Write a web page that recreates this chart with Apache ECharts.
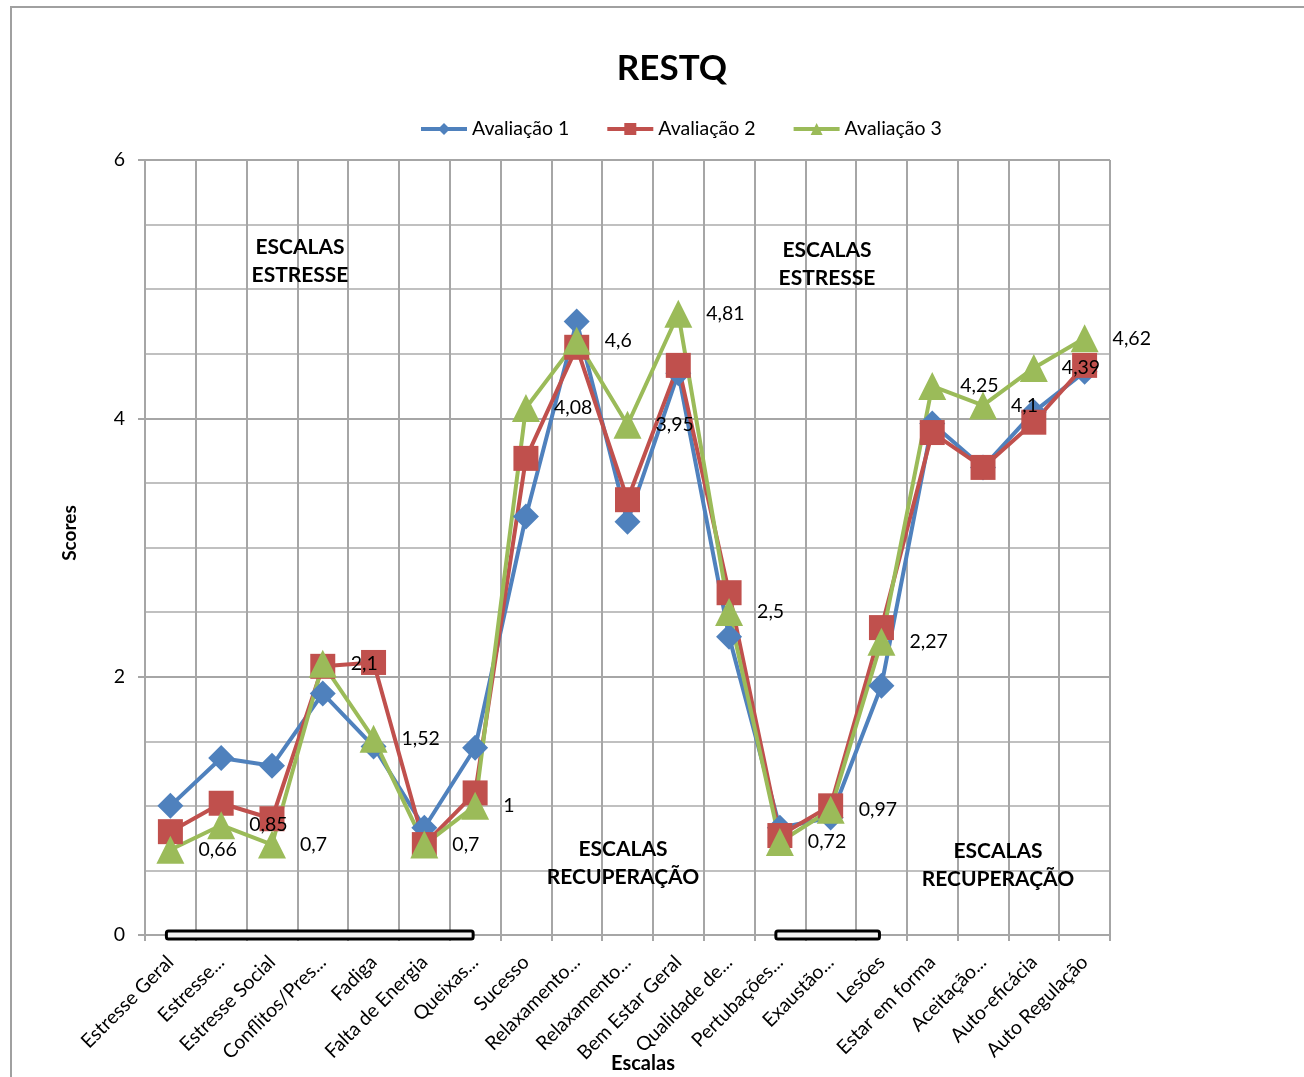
<!DOCTYPE html>
<html>
<head>
<meta charset="utf-8">
<title>RESTQ</title>
<script src="https://cdn.jsdelivr.net/npm/echarts@6/dist/echarts.min.js"></script>
<style>
  html, body { margin: 0; padding: 0; background: #fff; }
  #chart { width: 1304px; height: 1077px; }
</style>
</head>
<body>
<div id="chart"></div>
<script>
// RESTQ scale scores for three assessments
const categories = [
  'Estresse Geral', 'Estresse...', 'Estresse Social', 'Conflitos/Pres...', 'Fadiga',
  'Falta de Energia', 'Queixas...', 'Sucesso', 'Relaxamento...', 'Relaxamento...',
  'Bem Estar Geral', 'Qualidade de...', 'Pertubações...', 'Exaustão...', 'Lesões',
  'Estar em forma', 'Aceitação...', 'Auto-eficácia', 'Auto Regulação'
];
const avaliacao1 = [1.0, 1.37, 1.31, 1.87, 1.46, 0.83, 1.45, 3.24, 4.75, 3.2, 4.35, 2.31, 0.83, 0.91, 1.93, 3.96, 3.62, 4.05, 4.36];
const avaliacao2 = [0.8, 1.02, 0.9, 2.08, 2.11, 0.7, 1.1, 3.69, 4.55, 3.37, 4.41, 2.65, 0.77, 1.0, 2.38, 3.89, 3.62, 3.97, 4.41];
const avaliacao3 = [0.66, 0.85, 0.7, 2.1, 1.52, 0.7, 1.0, 4.08, 4.6, 3.95, 4.81, 2.5, 0.72, 0.97, 2.27, 4.25, 4.1, 4.39, 4.62];
const seriesNames = ['Avaliação 1', 'Avaliação 2', 'Avaliação 3'];
const yTicks = [0, 2, 4, 6];
// Category ranges underlined along the axis
const bracketRanges = [[0, 6], [12, 14]];

const FONT = 'Lato, "Open Sans", sans-serif';
const GRID_COLOR = '#a6a6a6';

const chart = echarts.init(document.getElementById('chart'), null, { renderer: 'canvas' });

function lineSeries(name, data, color, symbol, size, withLabels) {
  return {
    name: name,
    type: 'line',
    data: data,
    symbol: symbol,
    symbolSize: size,
    lineStyle: { color: color, width: 4 },
    itemStyle: { color: color },
    emphasis: { disabled: true },
    label: withLabels ? {
      show: true,
      position: 'right',
      distance: 14,
      color: '#000',
      fontFamily: FONT,
      fontSize: 19.5,
      formatter: p => String(p.value).replace('.', ',')
    } : { show: false },
    z: 2
  };
}

const option = {
  animation: false,
  backgroundColor: '#fff',
  textStyle: { fontFamily: FONT },
  title: {
    text: 'RESTQ',
    left: 667,
    top: 46,
    textAlign: 'center',
    textStyle: { fontFamily: FONT, fontSize: 35, fontWeight: 'bold', color: '#000' }
  },
  legend: {
    data: seriesNames,
    top: 114,
    left: 414,
    itemWidth: 46,
    itemHeight: 15,
    itemGap: 36,
    lineStyle: { width: 4 },
    textStyle: { fontFamily: FONT, fontSize: 19.5, color: '#000' }
  },
  grid: { left: 145, right: 194, top: 160, bottom: 142, containLabel: false },
  xAxis: {
    type: 'category',
    data: categories,
    boundaryGap: true,
    axisLine: { lineStyle: { color: GRID_COLOR, width: 2 } },
    axisTick: { show: true, length: 6, lineStyle: { color: GRID_COLOR, width: 2 } },
    splitLine: { show: true, lineStyle: { color: GRID_COLOR, width: 2 } },
    axisLabel: {
      interval: 0,
      rotate: 45,
      margin: 24,
      color: '#000',
      fontFamily: FONT,
      fontSize: 19.5
    }
  },
  yAxis: {
    type: 'value',
    min: 0,
    max: 6,
    interval: 2,
    axisLine: { show: true, lineStyle: { color: GRID_COLOR, width: 2 } },
    axisTick: { show: true, length: 7, lineStyle: { color: GRID_COLOR, width: 2 } },
    axisLabel: {
      margin: 20,
      color: '#000',
      fontFamily: FONT,
      fontSize: 19.5,
      formatter: v => (yTicks.indexOf(v) >= 0 ? String(v) : '')
    },
    splitLine: { show: true, lineStyle: { color: GRID_COLOR, width: 2 } },
    minorTick: { show: false, splitNumber: 4 },
    minorSplitLine: { show: true, lineStyle: { color: '#c0c0c0', width: 2 } }
  },
  series: [
    lineSeries(seriesNames[0], avaliacao1, '#4f81bd', 'diamond', 26, false),
    lineSeries(seriesNames[1], avaliacao2, '#c0504d', 'rect', 25, false),
    lineSeries(seriesNames[2], avaliacao3, '#9bbb59', 'triangle', 28, true)
  ]
};

chart.setOption(option);

// Annotations, axis titles, outer frame and the bracket bars along the x axis
function buildGraphics() {
  const els = [];
  els.push({
    type: 'polyline',
    shape: { points: [[11, 1077], [11, 7], [1304, 7]] },
    style: { stroke: '#a0a0a0', lineWidth: 2, fill: null },
    silent: true,
    z: 100
  });
  const notes = [
    { x: 300, y: 261, text: 'ESCALAS\nESTRESSE' },
    { x: 827, y: 264, text: 'ESCALAS\nESTRESSE' },
    { x: 623, y: 863, text: 'ESCALAS\nRECUPERAÇÃO' },
    { x: 998, y: 865, text: 'ESCALAS\nRECUPERAÇÃO' }
  ];
  notes.forEach(n => {
    els.push({
      type: 'text',
      x: n.x, y: n.y,
      style: {
        text: n.text,
        fontFamily: FONT, fontSize: 21, fontWeight: 'bold', fill: '#000',
        align: 'center', verticalAlign: 'middle', lineHeight: 28
      },
      silent: true,
      z: 100
    });
  });
  els.push({
    type: 'text',
    x: 643, y: 1064,
    style: {
      text: 'Escalas',
      fontFamily: FONT, fontSize: 20, fontWeight: 'bold', fill: '#000',
      align: 'center', verticalAlign: 'middle'
    },
    silent: true,
    z: 100
  });
  els.push({
    type: 'text',
    x: 70, y: 533,
    rotation: Math.PI / 2,
    style: {
      text: 'Scores',
      fontFamily: FONT, fontSize: 19, fontWeight: 'bold', fill: '#000',
      align: 'center', verticalAlign: 'middle'
    },
    silent: true,
    z: 100
  });
  const y0 = chart.convertToPixel({ yAxisIndex: 0 }, 0);
  bracketRanges.forEach(r => {
    const xa = chart.convertToPixel({ xAxisIndex: 0 }, r[0]);
    const xb = chart.convertToPixel({ xAxisIndex: 0 }, r[1]);
    els.push({
      type: 'rect',
      shape: { x: xa - 4, y: y0 - 4, width: xb - xa + 2, height: 8, r: 2 },
      style: { fill: '#f2f2f2', stroke: '#000', lineWidth: 3 },
      silent: true,
      z: 100
    });
  });
  return els;
}

chart.setOption({ graphic: buildGraphics() });
</script>
</body>
</html>
